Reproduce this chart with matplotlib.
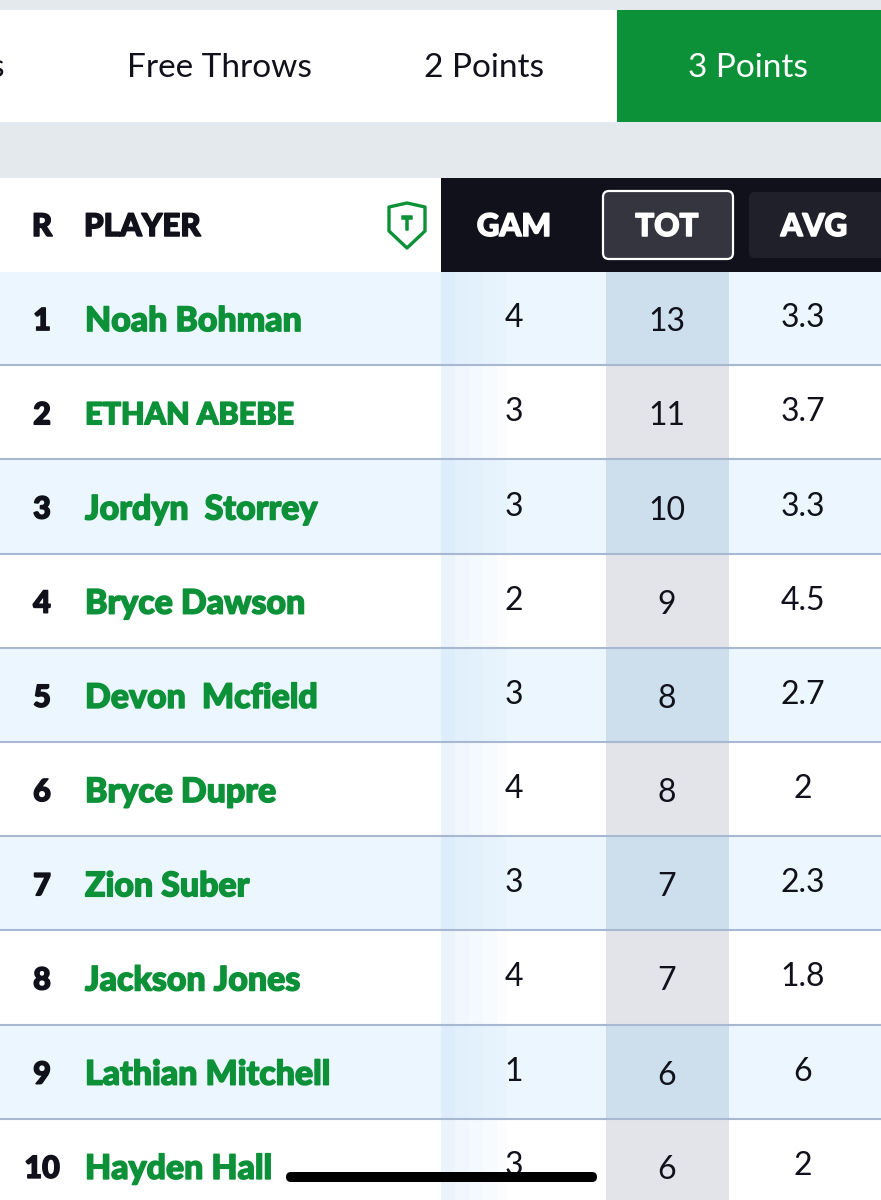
import matplotlib
matplotlib.use("Agg")
import matplotlib.pyplot as plt
import matplotlib.patheffects as pe
from matplotlib.patches import Rectangle, FancyBboxPatch, Polygon

# table values
ranks = [1, 2, 3, 4, 5, 6, 7, 8, 9, 10]
players = ["Noah Bohman", "ETHAN ABEBE", "Jordyn  Storrey", "Bryce Dawson", "Devon  Mcfield",
           "Bryce Dupre", "Zion Suber", "Jackson Jones", "Lathian Mitchell", "Hayden Hall"]
games = ["4", "3", "3", "2", "3", "4", "3", "4", "1", "3"]
totals = ["13", "11", "10", "9", "8", "8", "7", "7", "6", "6"]
averages = ["3.3", "3.7", "3.3", "4.5", "2.7", "2", "2.3", "1.8", "6", "2"]
tabs = ["Free Throws", "2 Points", "3 Points"]
columns = ["GAM", "TOT", "AVG"]

GREEN = "#0c9138"
DARK = "#10111b"
GREY_BG = "#e4e9ed"
ROW_BLUE = "#ebf6fe"
LINE = "#a9b8d2"

plt.rcParams['font.family'] = ['Lato', 'DejaVu Sans']

fig = plt.figure(figsize=(8.81, 12), dpi=100)
ax = fig.add_axes([0, 0, 1, 1])
ax.set_xlim(0, 881)
ax.set_ylim(1200, 0)
ax.axis("off")


def box(x, y, w, h, color, z=1):
    ax.add_patch(Rectangle((x, y), w, h, facecolor=color, edgecolor="none", zorder=z))


def heavy(x, y, s, color, size, ha="left"):
    # the installed Lato tops out lighter than the app font, so thicken it with a stroke
    t = ax.text(x, y, s, fontsize=size, fontweight="black", color=color, ha=ha, va="center", zorder=4)
    t.set_path_effects([pe.withStroke(linewidth=1.1, foreground=color)])
    return t


# page background and tab bar
box(0, 0, 881, 1200, GREY_BG, 0)
box(0, 10, 881, 112, "white")
box(617, 10, 264, 112, GREEN, 2)
# last letter of the previous tab, scrolled off the left edge as in the screenshot
ax.text(-10, 68, "s", fontsize=24, color=DARK, ha="left", va="center", zorder=3)
ax.text(219, 68, tabs[0], fontsize=24, color=DARK, ha="center", va="center", zorder=3)
ax.text(484, 68, tabs[1], fontsize=24, color=DARK, ha="center", va="center", zorder=3)
ax.text(748, 68, tabs[2], fontsize=24, color="white", ha="center", va="center", zorder=3)

# header row
box(0, 178, 441, 94, "white")
box(441, 178, 440, 94, DARK)
heavy(42, 227, "R", DARK, 22.5, ha="center")
heavy(84, 227, "PLAYER", DARK, 22.5)
ax.add_patch(FancyBboxPatch((603, 191), 130, 68, boxstyle="round,pad=0,rounding_size=6",
                            facecolor="#34353f", edgecolor="white", linewidth=1.6, zorder=2))
ax.add_patch(FancyBboxPatch((749, 192), 140, 66, boxstyle="round,pad=0,rounding_size=6",
                            facecolor="#1f2029", edgecolor="none", zorder=2))
heavy(514, 227, columns[0], "white", 22.5, ha="center")
heavy(667, 227, columns[1], "white", 22.5, ha="center")
heavy(814, 227, columns[2], "white", 22.5, ha="center")

# shield icon
ax.add_patch(Polygon([(389, 207), (407, 203), (425, 207), (425, 231), (407, 248), (389, 231)],
                     closed=True, facecolor="white", edgecolor=GREEN, linewidth=2.4,
                     joinstyle="round", zorder=3))
heavy(407, 224, "T", GREEN, 13, ha="center")

# rows
row_top = 272
row_h = 94.2
for i in range(len(ranks)):
    y0 = row_top + i * row_h
    mid = y0 + row_h / 2
    bg = ROW_BLUE if i % 2 == 0 else "white"
    box(0, y0, 881, row_h, bg)
    box(606, y0, 123, row_h, "#cddeec" if i % 2 == 0 else "#e3e4ea", 2)
    # faint scroll shadow at the left edge of the stat columns
    for x, w, a in [(441, 14, .30), (455, 14, .20), (469, 14, .16), (483, 14, .10), (497, 10, .05)]:
        box(x, y0, w, row_h, (0.75, 0.86, 0.97, a), 2)
    ax.plot([0, 881], [y0 + row_h - 1, y0 + row_h - 1], color=LINE, linewidth=1.5, zorder=3,
            solid_capstyle="butt")
    heavy(42, mid + 2, str(ranks[i]), DARK, 22, ha="center")
    # Lato capitals run wide, so the all-caps name gets a smaller size
    heavy(85, mid + 2, players[i], GREEN, 22 if players[i].isupper() else 24.4)
    ax.text(514, mid - 1, games[i], fontsize=23, color=DARK, ha="center", va="center", zorder=4)
    ax.text(667, mid + 3, totals[i], fontsize=23, color=DARK, ha="center", va="center", zorder=4)
    ax.text(803, mid - 1, averages[i], fontsize=23, color=DARK, ha="center", va="center", zorder=4)

# phone home indicator
ax.add_patch(FancyBboxPatch((286, 1172), 311, 10, boxstyle="round,pad=0,rounding_size=5",
                            facecolor="black", edgecolor="none", zorder=6))

fig.savefig("out.png", dpi=100)
